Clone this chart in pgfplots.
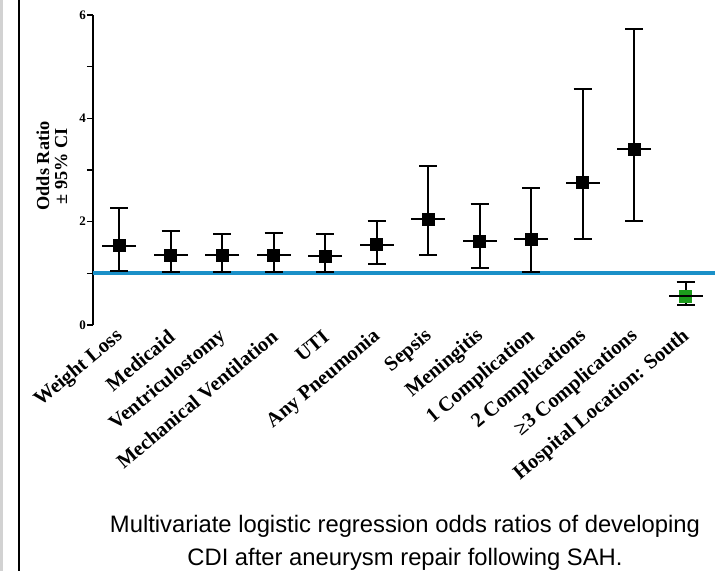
\documentclass[border=0pt]{standalone}
\usepackage{pgfplots}
\pgfplotsset{compat=1.18}
\usepackage{pgfplotstable}
\usepackage{fontspec}
\setmainfont{Liberation Serif}
\newfontfamily\capfont{Liberation Sans}
\definecolor{cline}{HTML}{1A90C8}
\definecolor{cgreen}{HTML}{1C9C1C}

% x, odds ratio, CI upper minus OR, OR minus CI lower
\pgfplotstableread{
x   or    ep    em
0   1.53  0.73  0.48
1   1.35  0.47  0.32
2   1.35  0.41  0.32
3   1.35  0.43  0.32
4   1.33  0.43  0.30
5   1.55  0.46  0.37
6   2.05  1.03  0.70
7   1.62  0.72  0.52
8   1.66  1.00  0.63
9   2.75  1.81  1.09
10  3.40  2.32  1.39
}\ordata
\pgfplotstableread{
x   or    ep    em
11  0.56  0.27  0.17
}\southdata

\begin{document}
\begin{tikzpicture}
\useasboundingbox (-93pt,-246pt) rectangle (622pt,325pt);
\fill[gray!35] (-93pt,-246pt) rectangle (-90pt,325pt);
\fill[black] (-74.5pt,-246pt) rectangle (-73pt,325pt);
\begin{axis}[
  scale only axis, width=622pt, height=310pt,
  xmin=-0.505, xmax=11.57, ymin=0, ymax=6,
  clip=false,
  axis x line=bottom, axis y line=left,
  x axis line style={draw=none}, y axis line style={black,line width=1.8pt,-},
  xtick={0,...,11},
  xticklabels={Weight Loss,Medicaid,Ventriculostomy,Mechanical Ventilation,UTI,Any Pneumonia,Sepsis,Meningitis,1 Complication,2 Complications,≥3 Complications,Hospital Location: South},
  x tick label style={rotate=40,anchor=east,font=\bfseries\fontsize{20.5}{22}\selectfont,inner sep=1pt,yshift=-3pt},
  xtick style={draw=none},
  ytick={0,2,4,6}, minor ytick={1,3,5},
  tick align=outside,
  ytick style={black,line width=1.5pt},
  major tick length=6pt, minor tick length=6pt,
  y tick label style={font=\bfseries\fontsize{13}{15}\selectfont,inner sep=1pt},
  /pgf/number format/assume math mode=true,
  ylabel={Odds Ratio\\± 95\% CI},
  every axis y label/.style={at={(axis description cs:-0.066,0.513)},rotate=90,anchor=center,align=center,font=\bfseries\fontsize{18.3}{18}\selectfont},
]
\addplot[cline,line width=4pt] coordinates {(-0.505,1)(11.57,1)};
\addplot[black,line width=2pt,only marks,mark=square*,mark size=5.5pt,
  error bars/.cd,y dir=both,y explicit,error bar style={line width=2pt},
  error mark=|,error mark options={black,line width=2pt,mark size=9pt}]
  table[x=x,y=or,y error plus=ep,y error minus=em]{\ordata};
\addplot[black,line width=2pt,only marks,mark=square*,mark size=5.5pt,mark options={fill=cgreen,draw=cgreen},
  error bars/.cd,y dir=both,y explicit,error bar style={black,line width=2pt},
  error mark=|,error mark options={black,line width=2pt,mark size=9pt}]
  table[x=x,y=or,y error plus=ep,y error minus=em]{\southdata};
% horizontal bar through each estimate
\addplot[black,line width=2pt,only marks,mark=-,mark size=17pt] table[x=x,y=or]{\ordata};
\addplot[black,line width=2pt,only marks,mark=-,mark size=17pt] table[x=x,y=or]{\southdata};
\end{axis}
\node[font=\capfont\fontsize{23.8}{33}\selectfont,align=center] at (312pt,-218pt)
  {Multivariate logistic regression odds ratios of developing\\CDI after aneurysm repair following SAH.};
\end{tikzpicture}
\end{document}
